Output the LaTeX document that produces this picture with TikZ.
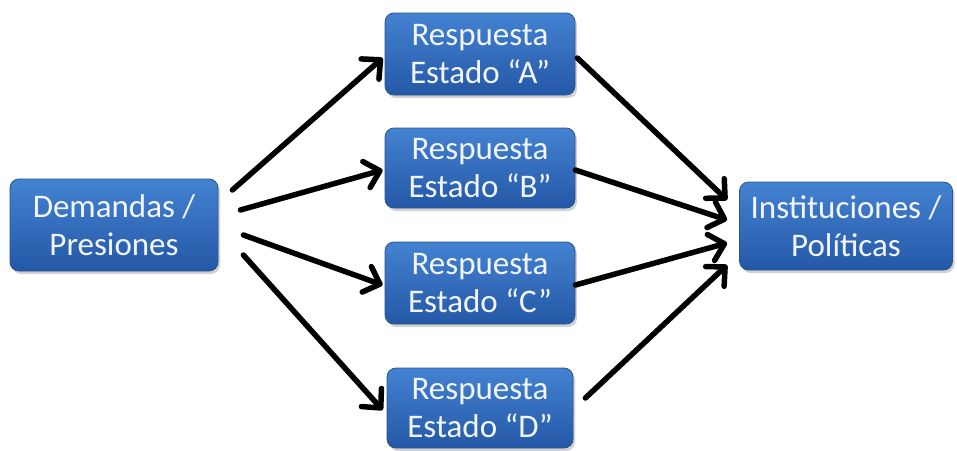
\documentclass[tikz,border=0pt]{standalone}
\usepackage{fontspec}
\setmainfont{Carlito}
\usetikzlibrary{arrows.meta,calc,shadows}
\definecolor{boxtop}{RGB}{68,130,210}
\definecolor{boxbot}{RGB}{36,88,166}
\definecolor{boxedge}{RGB}{38,84,146}
\definecolor{boxtext}{RGB}{242,246,252}
\tikzset{
  box/.style={rectangle, rounded corners=9pt, draw=boxedge, line width=0.8pt,
    top color=boxtop, bottom color=boxbot, text=boxtext, align=center,
    font=\fontsize{33}{38}\selectfont, inner sep=0pt,
    drop shadow={shadow xshift=2pt, shadow yshift=-3pt, opacity=0.3, fill=black!60}},
  conn/.style={line width=5.5pt, line cap=round, line join=round,
    -{Straight Barb[length=14pt,width=27pt,line cap=round,line join=round]}}
}
\begin{document}
\begin{tikzpicture}[x=1pt,y=-1pt]
\useasboundingbox (0,0) rectangle (957,450);
\node[box, minimum width=208pt, minimum height=92pt] (dem) at (114,225) {Demandas /\\Presiones};
\node[box, minimum width=190pt, minimum height=82pt] (a) at (480,54) {Respuesta\\Estado “A”};
\node[box, minimum width=190pt, minimum height=80pt] (b) at (480,168) {Respuesta\\Estado “B”};
\node[box, minimum width=190pt, minimum height=82pt] (c) at (480,283) {Respuesta\\Estado “C”};
\node[box, minimum width=186pt, minimum height=80pt] (d) at (480,408) {Respuesta\\Estado “D”};
\node[box, minimum width=213pt, minimum height=88pt] (inst) at (846,226) {Instituciones /\\Políticas};
\draw[conn] ($(dem.east)+(14,-35)$) -- ($(a.west)+(-2,4)$);
\draw[conn] ($(dem.east)+(22,-15)$) -- ($(b.west)+(-2,2)$);
\draw[conn] ($(dem.east)+(25,10)$) -- ($(c.west)+(-2,2)$);
\draw[conn] ($(dem.east)+(25,30)$) -- ($(d.west)+(-4,2)$);
\draw[conn] ($(a.east)+(2,4)$) -- ($(inst.west)+(-12,-26)$);
\draw[conn] ($(b.east)+(0,2)$) -- ($(inst.west)+(-12,-6)$);
\draw[conn] ($(c.east)+(0,2)$) -- ($(inst.west)+(-12,17)$);
\draw[conn] ($(d.east)+(12,-10)$) -- ($(inst.west)+(-12,39)$);
\end{tikzpicture}
\end{document}
